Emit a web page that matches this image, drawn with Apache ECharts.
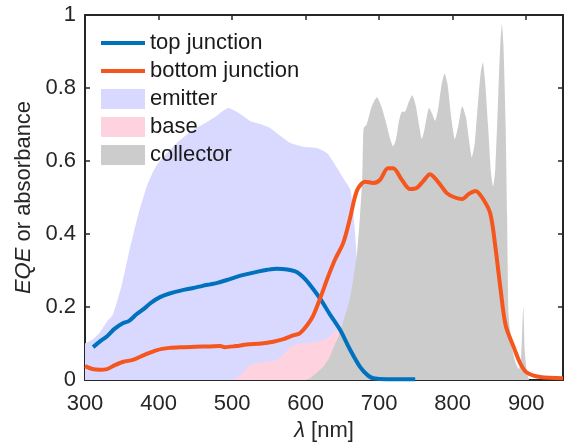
<!DOCTYPE html>
<html>
<head>
<meta charset="utf-8">
<script src="https://cdn.jsdelivr.net/npm/echarts@6/dist/echarts.min.js"></script>
<style>
  html, body { margin: 0; padding: 0; background: #fff; }
  #chart { width: 568px; height: 447px; }
</style>
</head>
<body>
<div id="chart"></div>
<script>
// wavelengths (nm) and values
const topNm = [311, 320, 330, 340, 352, 360, 370, 380, 390, 402, 415, 430, 447, 460, 470, 480, 493, 505, 520, 535, 548, 561, 575, 585, 592, 600, 610, 620, 633, 647, 660, 674, 685, 692, 710, 749];
const topEqe = [0.09, 0.105, 0.12, 0.14, 0.156, 0.162, 0.18, 0.195, 0.212, 0.227, 0.237, 0.245, 0.252, 0.258, 0.262, 0.266, 0.274, 0.282, 0.29, 0.297, 0.302, 0.305, 0.303, 0.298, 0.29, 0.275, 0.25, 0.222, 0.18, 0.137, 0.085, 0.036, 0.012, 0.005, 0.002, 0.002];

const bottomNm = [300, 310, 320, 330, 340, 352, 365, 380, 398, 415, 430, 450, 470, 484, 490, 505, 520, 540, 556, 570, 583, 592, 602, 610, 620, 630, 640, 651, 660, 670, 681, 692, 701, 712, 719, 731, 742, 751, 760, 769, 780, 792, 803, 813, 822, 831, 840, 851, 858, 865, 872, 883, 892, 901, 919, 950];
const bottomEqe = [0.038, 0.03, 0.028, 0.03, 0.04, 0.05, 0.055, 0.068, 0.082, 0.088, 0.09, 0.091, 0.092, 0.093, 0.09, 0.093, 0.097, 0.1, 0.105, 0.112, 0.122, 0.128, 0.15, 0.175, 0.225, 0.28, 0.33, 0.375, 0.44, 0.52, 0.543, 0.54, 0.548, 0.58, 0.58, 0.548, 0.523, 0.526, 0.545, 0.564, 0.543, 0.512, 0.5, 0.496, 0.51, 0.518, 0.5, 0.457, 0.365, 0.25, 0.15, 0.09, 0.045, 0.02, 0.008, 0.005];

const emitterNm = [300, 310, 320, 330, 338, 350, 361, 372, 384, 395, 406, 420, 443, 460, 480, 495, 510, 524, 540, 552, 565, 579, 595, 616, 630, 643, 652, 661, 667, 672, 680, 690, 700];
const emitterAbs = [0.10, 0.11, 0.13, 0.16, 0.18, 0.26, 0.36, 0.45, 0.53, 0.58, 0.61, 0.64, 0.68, 0.70, 0.725, 0.745, 0.73, 0.71, 0.70, 0.69, 0.67, 0.65, 0.64, 0.635, 0.62, 0.58, 0.55, 0.52, 0.41, 0.25, 0.1, 0.02, 0];

const baseNm = [500, 510, 524, 540, 561, 572, 579, 595, 616, 630, 638, 651, 660, 670, 680, 690];
const baseAbs = [0, 0.01, 0.04, 0.048, 0.055, 0.075, 0.09, 0.10, 0.105, 0.115, 0.13, 0.155, 0.18, 0.22, 0.1, 0];

const collectorNm = [600, 606, 615, 624, 632, 638, 645, 651, 660, 665, 670, 674, 677, 678, 679, 683, 690, 697, 703, 710, 715, 719, 723, 727, 731, 735, 740, 745, 750, 755, 758, 762, 768, 772, 776, 780, 785, 789, 793, 798, 803, 808, 813, 818, 822, 826, 830, 834, 838, 841, 844, 848, 852, 855, 858, 862, 865, 867, 869, 872, 874, 876, 880, 885, 890, 893, 896, 898, 901, 904];
const collectorAbs = [0, 0.005, 0.02, 0.036, 0.06, 0.09, 0.12, 0.16, 0.22, 0.28, 0.35, 0.45, 0.55, 0.65, 0.69, 0.70, 0.75, 0.775, 0.75, 0.70, 0.66, 0.64, 0.66, 0.71, 0.735, 0.735, 0.76, 0.78, 0.75, 0.69, 0.66, 0.69, 0.745, 0.73, 0.71, 0.74, 0.81, 0.84, 0.81, 0.72, 0.66, 0.70, 0.75, 0.72, 0.66, 0.61, 0.65, 0.75, 0.84, 0.87, 0.82, 0.70, 0.57, 0.53, 0.58, 0.78, 0.93, 0.975, 0.92, 0.70, 0.45, 0.18, 0.10, 0.05, 0.03, 0.06, 0.2, 0.08, 0.02, 0];

const xTicks = { min: 300, max: 950, step: 100 };
const yTicks = { min: 0, max: 1, step: 0.2 };

const FONT = '"Liberation Sans", Arial, Helvetica, sans-serif';
const INK = '#262626';
const LINE_ICON = 'path://M0,0 L44,0 L44,4 L0,4 Z';

const pairs = (xs, ys) => xs.map((x, i) => [x, ys[i]]);

const chart = echarts.init(document.getElementById('chart'), null, { renderer: 'canvas' });

const areaSeries = (name, color, xs, ys, z) => ({
  name,
  type: 'line',
  data: pairs(xs, ys),
  symbol: 'none',
  smooth: 0.2,
  color,
  lineStyle: { width: 0 },
  areaStyle: { color, opacity: 1 },
  z,
  silent: true,
});

const lineSeries = (name, color, xs, ys) => ({
  name,
  type: 'line',
  data: pairs(xs, ys),
  symbol: 'none',
  smooth: 0.3,
  color,
  lineStyle: { width: 4, color },
  z: 10,
});

const frameAxis = {
  axisLine: { show: true, onZero: false, lineStyle: { color: INK, width: 2 } },
  axisTick: { show: true, inside: true, length: 5, lineStyle: { color: INK, width: 1.5 } },
  splitLine: { show: false },
};

chart.setOption({
  animation: false,
  textStyle: { fontFamily: FONT },
  grid: { left: 85, right: 5, top: 15, bottom: 67 },
  legend: {
    orient: 'vertical',
    left: 96,
    top: 27,
    itemWidth: 44,
    itemHeight: 20,
    itemGap: 6,
    textStyle: { fontSize: 22, color: '#1a1a1a', fontFamily: FONT, lineHeight: 20 },
    data: [
      { name: 'top junction', icon: LINE_ICON },
      { name: 'bottom junction', icon: LINE_ICON },
      { name: 'emitter', icon: 'rect' },
      { name: 'base', icon: 'rect' },
      { name: 'collector', icon: 'rect' },
    ],
  },
  xAxis: [
    {
      type: 'value',
      min: xTicks.min,
      max: xTicks.max,
      interval: xTicks.step,
      position: 'bottom',
      name: '{i|λ} [nm]',
      nameLocation: 'middle',
      nameGap: 40,
      nameTextStyle: {
        fontSize: 22, color: INK, fontFamily: FONT,
        rich: { i: { fontStyle: 'italic', fontSize: 22, color: INK, fontFamily: FONT } },
      },
      axisLabel: { fontSize: 22, color: INK, margin: 13, showMaxLabel: false },
      ...frameAxis,
    },
    {
      type: 'value',
      min: xTicks.min,
      max: xTicks.max,
      interval: xTicks.step,
      position: 'top',
      axisLabel: { show: false },
      ...frameAxis,
    },
  ],
  yAxis: [
    {
      type: 'value',
      min: yTicks.min,
      max: yTicks.max,
      interval: yTicks.step,
      position: 'left',
      name: '{i|EQE} or absorbance',
      nameLocation: 'middle',
      nameGap: 47,
      nameTextStyle: {
        fontSize: 22, color: INK, fontFamily: FONT,
        rich: { i: { fontStyle: 'italic', fontSize: 22, color: INK, fontFamily: FONT } },
      },
      axisLabel: { fontSize: 22, color: INK, margin: 9 },
      ...frameAxis,
    },
    {
      type: 'value',
      min: yTicks.min,
      max: yTicks.max,
      interval: yTicks.step,
      position: 'right',
      axisLabel: { show: false },
      ...frameAxis,
    },
  ],
  series: [
    areaSeries('emitter', '#D9D9FF', emitterNm, emitterAbs, 1),
    areaSeries('base', '#FFD2E0', baseNm, baseAbs, 2),
    areaSeries('collector', '#CCCCCC', collectorNm, collectorAbs, 3),
    lineSeries('top junction', '#0072BD', topNm, topEqe),
    lineSeries('bottom junction', '#F4561D', bottomNm, bottomEqe),
  ],
});
</script>
</body>
</html>
